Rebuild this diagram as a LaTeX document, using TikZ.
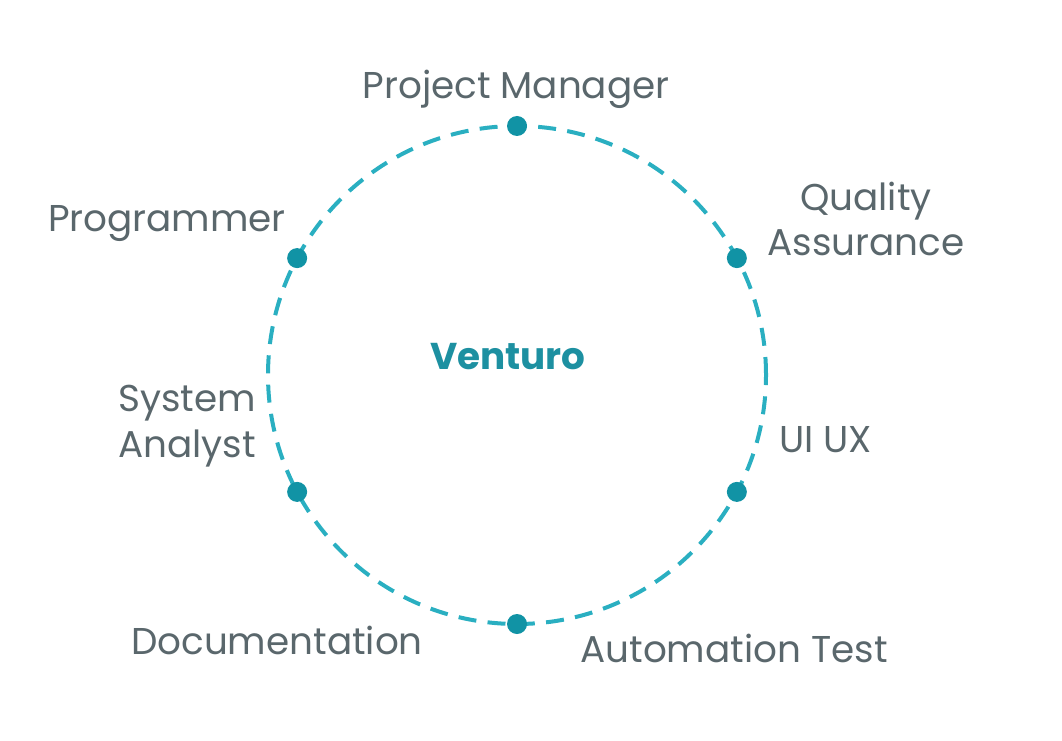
\documentclass[tikz,border=0pt]{standalone}
\usepackage{fontspec}
\setmainfont{Poppins}
\usetikzlibrary{calc}
\definecolor{ringteal}{HTML}{2AAFC1}
\definecolor{dotteal}{HTML}{1193A5}
\definecolor{hubteal}{HTML}{1D90A1}
\definecolor{labelgray}{HTML}{5A676C}

\begin{document}
\begin{tikzpicture}[x=0.75pt, y=0.75pt,
		ring/.style={draw=ringteal, line width=3pt, dash pattern=on 13.5pt off 8.5pt},
		dot/.style={circle, fill=dotteal, inner sep=0pt, minimum size=15pt},
		role/.style={text=labelgray, inner sep=0pt, font=\fontsize{28}{34}\selectfont},
		hub/.style={text=hubteal, inner sep=0pt, font=\fontsize{28}{34}\selectfont\bfseries}]
				\useasboundingbox (0, 0) rectangle (1062, 740);
				\coordinate (O) at (517, 365);
				
				\draw[ring] (O) circle (249);
				\node[hub, anchor=base] (venturo) at (508, 371) {Venturo};
				
				\node[dot] (pm) at ($(O)+(90:249)$) {};
				\node[dot] (qa) at ($(O)+(28:249)$) {};
				\node[dot] (ux) at ($(O)+(-28:249)$) {};
				\node[dot] (at) at ($(O)+(-90:249)$) {};
				\node[dot] (sa) at ($(O)+(208:249)$) {};
				\node[dot] (prog) at ($(O)+(152:249)$) {};
				
				\node[role, anchor=base] (pmtext) at (516, 641) {Project Manager};
				\node[role, anchor=base] (progtext) at (167, 508) {Programmer};
				\node[role, align=center] (qatext) at (866, 521) {Quality\\Assurance};
				\node[role, align=left, anchor=west] (satext) at (118, 314) {System\\Analyst};
				\node[role, anchor=base west] (uxtext) at (779, 288) {UI UX};
				\node[role, anchor=base] (doctext) at (277, 86) {Documentation};
				\node[role, anchor=base] (attext) at (734, 78) {Automation Test};
			\end{tikzpicture}
\end{document}
